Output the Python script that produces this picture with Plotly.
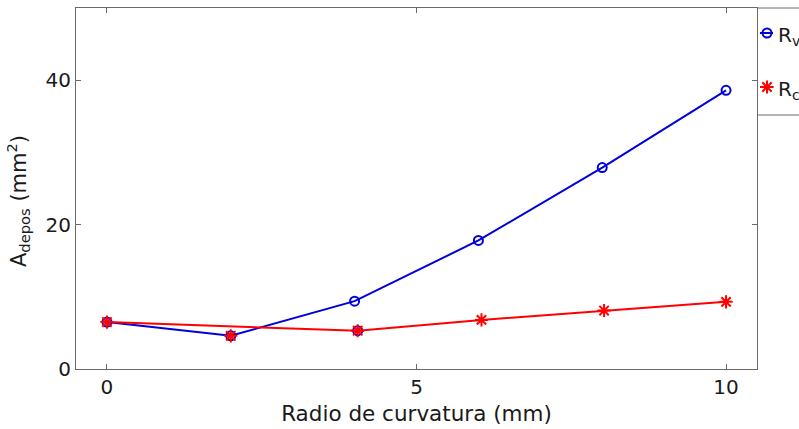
import plotly.graph_objects as go

# Data
radius_v = [0, 2, 4, 6, 8, 10]
area_v = [6.5, 4.6, 9.4, 17.8, 27.9, 38.6]
radius_c = [0, 4.05, 6.05, 8.03, 10]
area_c = [6.5, 5.3, 6.8, 8.1, 9.3]
# overlapping markers drawn on top of the lines
extra_c_x = [2]
extra_c_y = [4.6]
extra_v_x = [4.05]
extra_v_y = [5.3]

x_ticks = [0, 5, 10]
y_ticks = [0, 20, 40]
names = ["R<sub>variable</sub>", "R<sub>constante</sub>"]
x_title = "Radio de curvatura (mm)"
y_title = "A<sub>depos</sub> (mm<sup>2</sup>)"

BLUE = "#0000dd"
RED = "#ff0000"
FONT = "DejaVu Sans"
AX = "#6a6a6a"
TXT = "#1a1a1a"

fig = go.Figure()
fig.add_trace(go.Scatter(x=radius_v, y=area_v, mode="lines+markers", name=names[0],
                         line=dict(color=BLUE, width=2),
                         marker=dict(symbol="circle-open", size=9, color=BLUE, line=dict(width=2)),
                         showlegend=False))
fig.add_trace(go.Scatter(x=extra_v_x, y=extra_v_y, mode="markers",
                         marker=dict(symbol="circle-open", size=9, color=BLUE, line=dict(width=2)),
                         showlegend=False))
fig.add_trace(go.Scatter(x=radius_c, y=area_c, mode="lines+markers", name=names[1],
                         line=dict(color=RED, width=2),
                         marker=dict(symbol="asterisk-open", size=11, color=RED, line=dict(width=2, color=RED)),
                         showlegend=False))
fig.add_trace(go.Scatter(x=extra_c_x, y=extra_c_y, mode="markers",
                         marker=dict(symbol="asterisk-open", size=11, color=RED, line=dict(width=2, color=RED)),
                         showlegend=False))

# Legend drawn on an overlay axis in pixel-like units
leg_y = [33, 87]
leg_colors = [BLUE, RED]
leg_symbols = ["circle-open", "asterisk-open"]
leg_sizes = [9, 11]
for ly, c, s, sz in zip(leg_y, leg_colors, leg_symbols, leg_sizes):
    fig.add_trace(go.Scatter(x=[760, 773], y=[ly, ly], mode="lines", line=dict(color=c, width=2),
                             xaxis="x2", yaxis="y2", showlegend=False, hoverinfo="skip"))
    fig.add_trace(go.Scatter(x=[767], y=[ly], mode="markers",
                             marker=dict(symbol=s, size=sz, color=c, line=dict(width=2, color=c)),
                             xaxis="x2", yaxis="y2", showlegend=False, hoverinfo="skip"))
for ly, n in zip(leg_y, names):
    fig.add_annotation(x=776, y=ly + 3, xref="x2", yref="y2", text=n, showarrow=False,
                       xanchor="left", yanchor="middle", font=dict(family=FONT, size=20, color=TXT))

dom = 681 / 723
fig.add_shape(type="line", xref="paper", yref="paper", x0=dom, x1=1.05, y0=(369 - 115) / 361, y1=(369 - 115) / 361,
              line=dict(color=AX, width=1))
fig.add_shape(type="line", xref="paper", yref="paper", x0=dom, x1=1.05, y0=1, y1=1,
              line=dict(color=AX, width=1))

# y-axis title (slightly below the plot centre, as in the reference)
fig.add_annotation(x=(18 - 76) / 723, y=(369 - 201) / 361, xref="paper", yref="paper",
                   text=y_title, textangle=-90, showarrow=False, xanchor="center", yanchor="middle",
                   font=dict(family=FONT, size=21, color=TXT))

axis_common = dict(showgrid=False, zeroline=False, showline=True, linecolor=AX, linewidth=1,
                   mirror="ticks", ticks="inside", ticklen=5, tickcolor=AX,
                   tickfont=dict(family=FONT, size=20, color=TXT))
fig.update_layout(
    width=799, height=429,
    margin=dict(l=76, r=0, t=8, b=60, autoexpand=False),
    plot_bgcolor="white", paper_bgcolor="white",
    xaxis=dict(domain=[0, dom], range=[-0.5, 10.5], tickvals=x_ticks,
               title=dict(text=x_title, font=dict(family=FONT, size=21.5, color=TXT), standoff=7),
               **axis_common),
    yaxis=dict(range=[0, 50], tickvals=y_ticks, **axis_common),
    xaxis2=dict(domain=[dom, 1], range=[757, 799], visible=False, anchor="y2"),
    yaxis2=dict(domain=[0, 1], range=[369, 8], visible=False, anchor="x2"),
    showlegend=False,
)
fig.write_html("out.html")
